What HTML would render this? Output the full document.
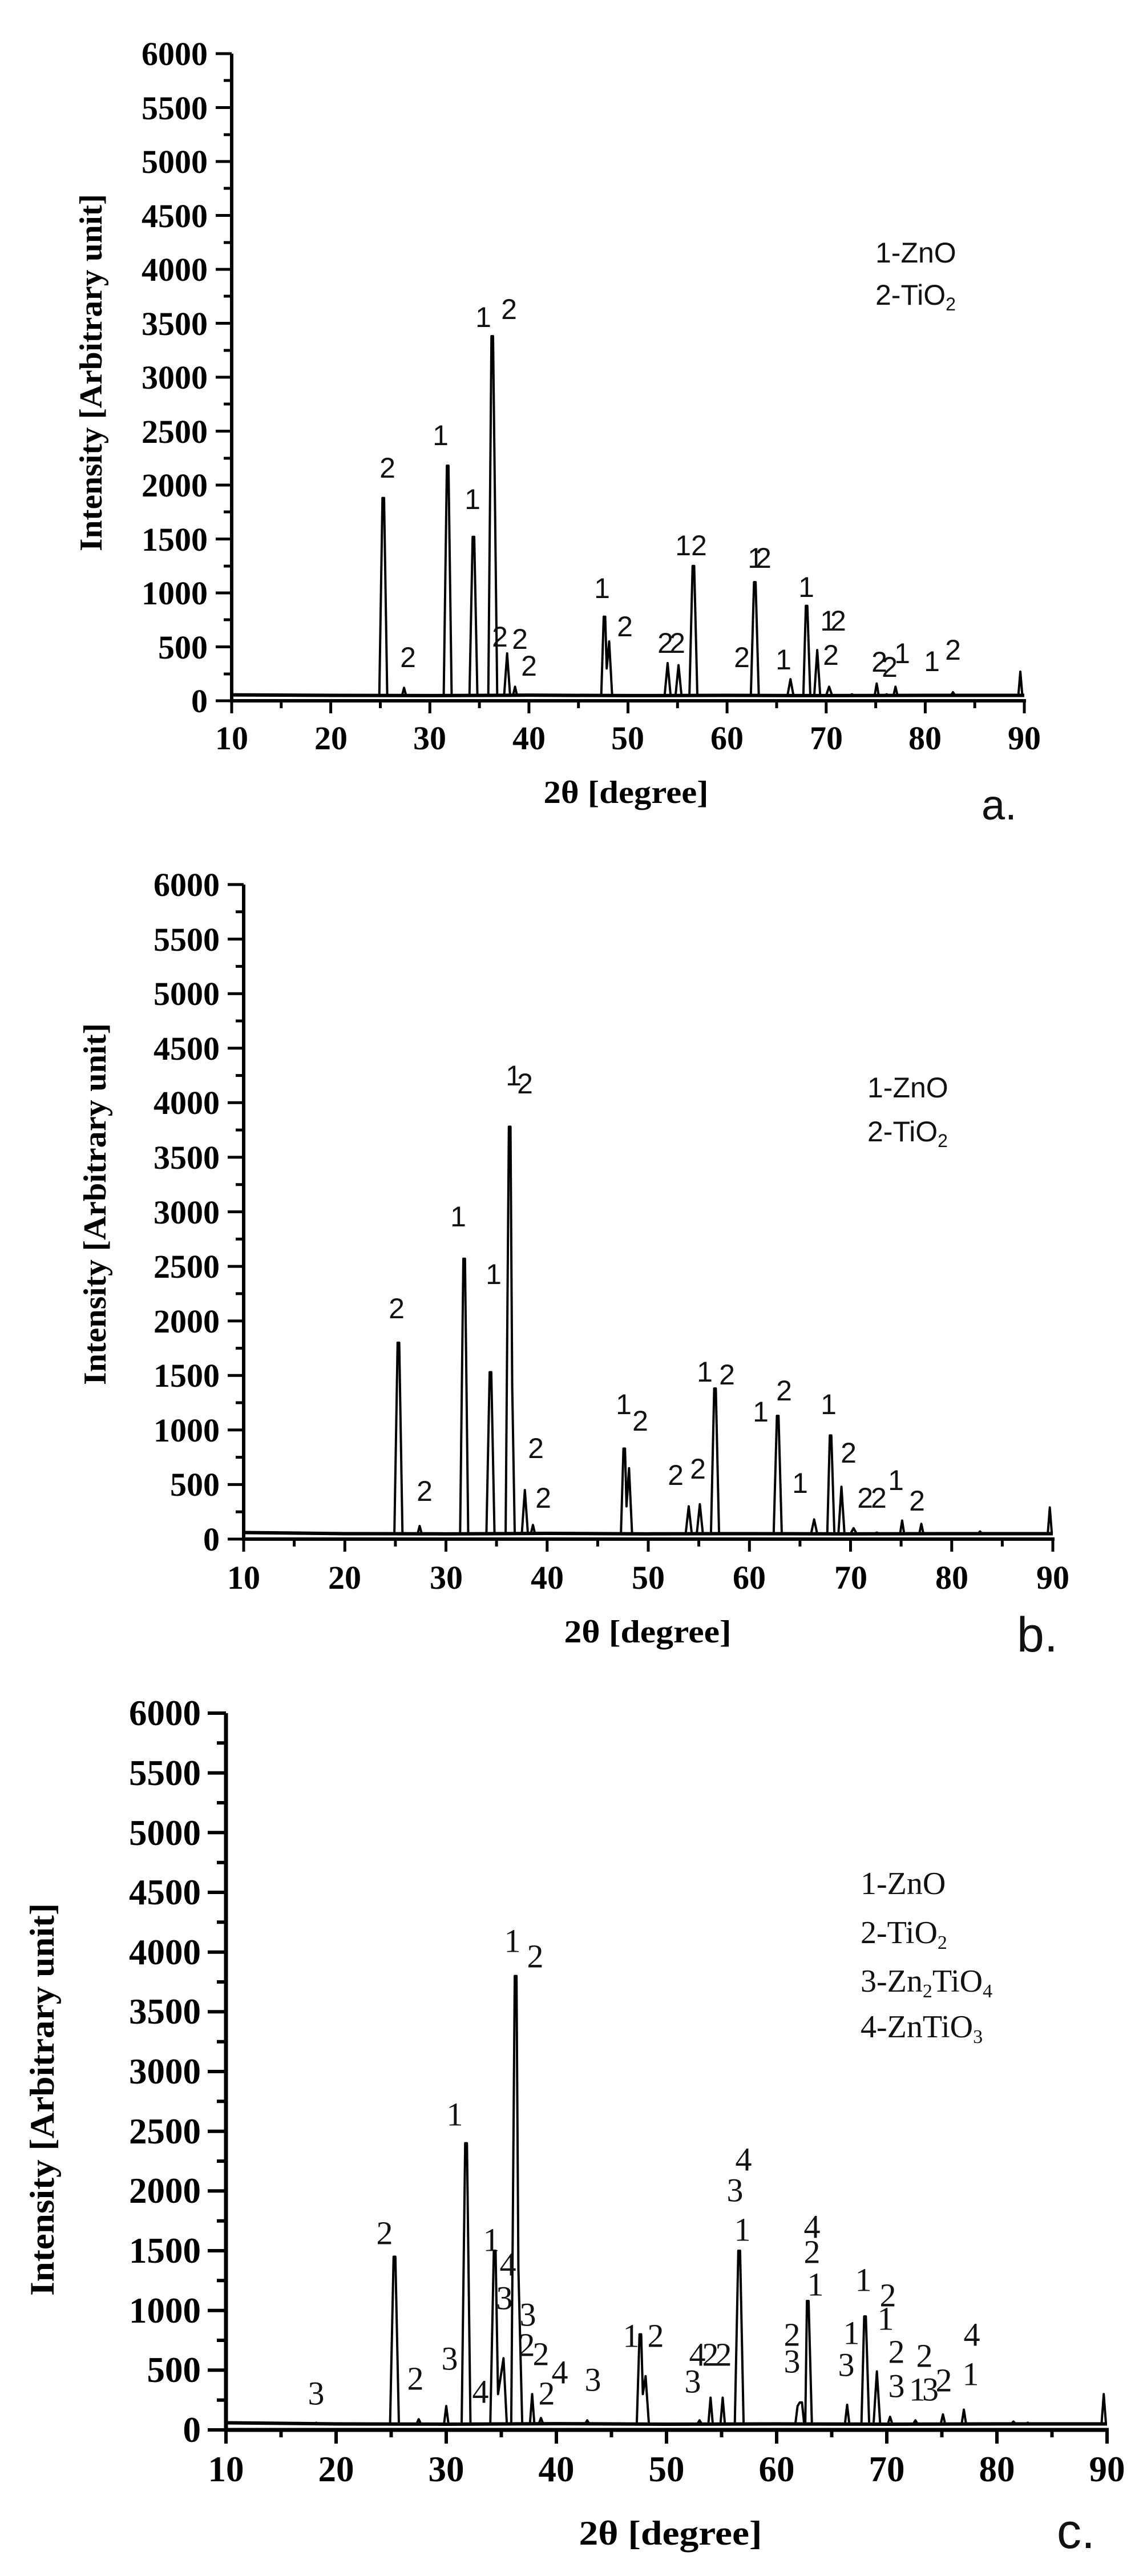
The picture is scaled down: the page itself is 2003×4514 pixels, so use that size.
<!DOCTYPE html>
<html><head><meta charset="utf-8"><style>
body{margin:0;background:#fff}
svg{display:block}
.t{font-family:"Liberation Serif",serif;font-weight:bold;fill:#000}
.s{font-family:"Liberation Sans",sans-serif;fill:#111}
.r{font-family:"Liberation Serif",serif;fill:#111}
path.p{fill:none;stroke:#000;stroke-width:4;vector-effect:non-scaling-stroke;stroke-linejoin:round}
path.b{fill:none;stroke:#000;stroke-width:6;vector-effect:non-scaling-stroke}
</style></head><body>
<svg width="2003" height="4514" viewBox="0 0 2003 4514" xmlns="http://www.w3.org/2000/svg">
<rect width="2003" height="4514" fill="#fff"/>

<!-- ============ CHART A ============ -->
<g transform="translate(406,1228) scale(17.3625,-0.189) translate(-10,0)">
<path class="b" d="M10 55 L20 50 L30 48 L40 52 L50 48 L60 50 L70 48 L80 50 L90 50"/>
<path class="p" d="M24.9 50 L25.22 1880 L25.38 1880 L25.7 50 M27.2 50 L27.4 120 L27.6 50 M31.4 50 L31.72 2180 L31.88 2180 L32.2 50 M34.0 50 L34.32 1520 L34.48 1520 L34.8 50 M35.9 50 L36.22 3380 L36.38 3380 L36.8 50 M37.5 50 L37.8 440 L38.1 50 M38.4 50 L38.6 130 L38.8 50 M47.3 50 L47.55 780 L47.7 780 L47.85 300 L48.1 550 L48.4 50 M53.7 50 L54.0 350 L54.3 50 M54.8 50 L55.1 330 L55.4 50 M56.2 50 L56.52 1250 L56.68 1250 L57.0 50 M62.4 50 L62.72 1100 L62.88 1100 L63.2 50 M66.1 50 L66.4 200 L66.7 50 M67.7 50 L67.95 880 L68.1 880 L68.4 50 M68.8 50 L69.1 470 L69.4 50 M70.0 50 L70.3 130 L70.6 50 M72.4 50 L72.6 60 L72.8 50 M74.9 50 L75.1 160 L75.3 50 M75.9 50 L76.1 60 L76.3 50 M76.8 50 L77.0 130 L77.2 50 M81.3 50 L81.5 55 L81.7 50 M82.6 50 L82.8 80 L83.0 50 M89.4 50 L89.6 270 L89.8 50"/>
</g>
<!-- axes a -->
<g stroke="#000" stroke-width="6" fill="none">
<path d="M406 94 L406 1231 M403 1228 L1798 1228"/>
<path stroke-width="5" d="M378 94H406M378 188.5H406M378 283H406M378 377.5H406M378 472H406M378 566.5H406M378 661H406M378 755.5H406M378 850H406M378 944.5H406M378 1039H406M378 1133.5H406M378 1228H406
M392 141H406M392 236H406M392 330H406M392 425H406M392 519H406M392 614H406M392 708H406M392 803H406M392 897H406M392 992H406M392 1086H406M392 1181H406"/>
<path stroke-width="5" d="M406 1228V1250M579.6 1228V1250M753.3 1228V1250M926.9 1228V1250M1100.5 1228V1250M1274.1 1228V1250M1447.8 1228V1250M1621.4 1228V1250M1795 1228V1250
M492.8 1228V1241M666.5 1228V1241M840.1 1228V1241M1013.7 1228V1241M1187.3 1228V1241M1361 1228V1241M1534.6 1228V1241M1708.2 1228V1241"/>
</g>
<g class="t" font-size="58" text-anchor="end">
<text x="364" y="114">6000</text><text x="364" y="209">5500</text><text x="364" y="303">5000</text><text x="364" y="398">4500</text><text x="364" y="492">4000</text><text x="364" y="587">3500</text><text x="364" y="681">3000</text><text x="364" y="776">2500</text><text x="364" y="870">2000</text><text x="364" y="965">1500</text><text x="364" y="1059">1000</text><text x="364" y="1154">500</text><text x="364" y="1248">0</text>
</g>
<g class="t" font-size="58" text-anchor="middle">
<text x="406" y="1313">10</text><text x="580" y="1313">20</text><text x="753" y="1313">30</text><text x="927" y="1313">40</text><text x="1100" y="1313">50</text><text x="1274" y="1313">60</text><text x="1448" y="1313">70</text><text x="1621" y="1313">80</text><text x="1795" y="1313">90</text>
<text x="1097" y="1407" font-size="56" textLength="289" lengthAdjust="spacingAndGlyphs">2θ [degree]</text>
<text transform="translate(178,653) rotate(-90)" font-size="56" textLength="626" lengthAdjust="spacingAndGlyphs">Intensity [Arbitrary unit]</text>
</g>
<g class="s" font-size="50">
<text x="1534" y="460">1-ZnO</text>
<text x="1534" y="534">2-TiO<tspan font-size="32" dy="10">2</tspan></text>
<text x="1720" y="1436" font-size="74">a.</text>
</g>
<g class="s" font-size="50" text-anchor="middle" dominant-baseline="central">
<text x="679" y="820">2</text><text x="715" y="1152">2</text><text x="772" y="763">1</text><text x="828" y="875">1</text>
<text x="847" y="556">1</text><text x="892" y="542">2</text>
<text x="876" y="1116">2</text><text x="911" y="1120">2</text><text x="927" y="1167">2</text>
<text x="1055" y="1031">1</text><text x="1095" y="1098">2</text>
<text x="1166" y="1127">2</text><text x="1187" y="1127">2</text>
<text x="1211" y="956">12</text><text x="1324" y="978" letter-spacing="-14">12</text>
<text x="1300" y="1152">2</text><text x="1373" y="1156">1</text><text x="1413" y="1029">1</text>
<text x="1455" y="1088" letter-spacing="-10">12</text><text x="1456" y="1148">2</text>
<text x="1541" y="1160">2</text><text x="1559" y="1169">2</text><text x="1581" y="1145">1</text>
<text x="1633" y="1159">1</text><text x="1670" y="1139">2</text>
</g>

<!-- ============ CHART B ============ -->
<g transform="translate(427,2697) scale(17.725,-0.19117) translate(-10,0)">
<path class="b" d="M10 60 L20 50 L30 48 L40 52 L50 48 L60 50 L70 48 L80 50 L90 50"/>
<path class="p" d="M24.9 50 L25.22 1800 L25.38 1800 L25.7 50 M27.2 50 L27.4 120 L27.6 50 M31.4 50 L31.72 2570 L31.88 2570 L32.2 50 M34.0 50 L34.32 1530 L34.48 1530 L34.8 50 M35.9 50 L36.22 3780 L36.38 3780 L36.55 1400 L36.8 50 M37.5 50 L37.8 450 L38.1 50 M38.4 50 L38.6 130 L38.8 50 M47.3 50 L47.55 830 L47.7 830 L47.85 300 L48.1 650 L48.4 50 M53.7 50 L54.0 300 L54.3 50 M54.8 50 L55.1 320 L55.4 50 M56.2 50 L56.52 1380 L56.68 1380 L57.0 50 M62.4 50 L62.72 1130 L62.88 1130 L63.2 50 M66.1 50 L66.4 180 L66.7 50 M67.7 50 L67.95 950 L68.1 950 L68.4 50 M68.8 50 L69.1 480 L69.4 50 M70.0 50 L70.3 100 L70.6 50 M72.4 50 L72.6 60 L72.8 50 M74.9 50 L75.1 170 L75.3 50 M76.8 50 L77.0 140 L77.2 50 M81.3 50 L81.5 55 L81.7 50 M82.6 50 L82.8 70 L83.0 50 M89.5 50 L89.7 290 L89.9 50"/>
</g>
<g stroke="#000" stroke-width="6" fill="none">
<path d="M427 1550 L427 2700 M424 2697 L1848 2697"/>
<path stroke-width="5" d="M399 1550H427M399 1645.6H427M399 1741.2H427M399 1836.8H427M399 1932.3H427M399 2027.9H427M399 2123.5H427M399 2219.1H427M399 2314.7H427M399 2410.3H427M399 2505.8H427M399 2601.4H427M399 2697H427
M413 1597.8H427M413 1693.4H427M413 1789H427M413 1884.6H427M413 1980.1H427M413 2075.7H427M413 2171.3H427M413 2266.9H427M413 2362.5H427M413 2458H427M413 2553.6H427M413 2649.2H427"/>
<path stroke-width="5" d="M427 2697V2719M604.3 2697V2719M781.5 2697V2719M958.8 2697V2719M1136 2697V2719M1313.3 2697V2719M1490.5 2697V2719M1667.8 2697V2719M1845 2697V2719
M515.6 2697V2710M692.9 2697V2710M870.1 2697V2710M1047.4 2697V2710M1224.6 2697V2710M1401.9 2697V2710M1579.1 2697V2710M1756.4 2697V2710"/>
</g>
<g class="t" font-size="58" text-anchor="end">
<text x="385" y="1570">6000</text><text x="385" y="1666">5500</text><text x="385" y="1761">5000</text><text x="385" y="1857">4500</text><text x="385" y="1952">4000</text><text x="385" y="2048">3500</text><text x="385" y="2144">3000</text><text x="385" y="2239">2500</text><text x="385" y="2335">2000</text><text x="385" y="2430">1500</text><text x="385" y="2526">1000</text><text x="385" y="2621">500</text><text x="385" y="2717">0</text>
</g>
<g class="t" font-size="58" text-anchor="middle">
<text x="427" y="2784">10</text><text x="604" y="2784">20</text><text x="782" y="2784">30</text><text x="959" y="2784">40</text><text x="1136" y="2784">50</text><text x="1313" y="2784">60</text><text x="1491" y="2784">70</text><text x="1668" y="2784">80</text><text x="1845" y="2784">90</text>
<text x="1135" y="2878" font-size="56" textLength="293" lengthAdjust="spacingAndGlyphs">2θ [degree]</text>
<text transform="translate(185,2110) rotate(-90)" font-size="56" textLength="634" lengthAdjust="spacingAndGlyphs">Intensity [Arbitrary unit]</text>
</g>
<g class="s" font-size="50">
<text x="1520" y="1923">1-ZnO</text>
<text x="1520" y="2000">2-TiO<tspan font-size="32" dy="10">2</tspan></text>
<text x="1782" y="2894" font-size="86">b.</text>
</g>
<g class="s" font-size="50" text-anchor="middle" dominant-baseline="central">
<text x="695" y="2293">2</text><text x="744" y="2613">2</text><text x="803" y="2132">1</text><text x="865" y="2233">1</text>
<text x="900" y="1885">1</text><text x="920" y="1899">2</text>
<text x="939" y="2538">2</text><text x="952" y="2625">2</text>
<text x="1093" y="2461">1</text><text x="1122" y="2490">2</text>
<text x="1184" y="2585">2</text><text x="1223" y="2574">2</text>
<text x="1235" y="2404">1</text><text x="1274" y="2409">2</text>
<text x="1333" y="2474">1</text><text x="1374" y="2437">2</text>
<text x="1402" y="2599">1</text>
<text x="1452" y="2461">1</text><text x="1487" y="2546">2</text>
<text x="1526" y="2625" letter-spacing="-4">22</text><text x="1570" y="2594">1</text><text x="1607" y="2630">2</text>
</g>

<!-- ============ CHART C ============ -->
<g transform="translate(396,4258) scale(19.3,-0.2093) translate(-10,0)">
<path class="b" d="M10 60 L20 50 L30 48 L40 52 L50 48 L60 50 L70 48 L80 50 L90 50"/>
<path class="p" d="M18.0 50 L18.2 60 L18.4 50 M24.9 50 L25.22 1450 L25.38 1450 L25.7 50 M27.3 50 L27.5 90 L27.7 50 M29.8 50 L30.0 200 L30.2 50 M31.4 50 L31.72 2400 L31.88 2400 L32.2 50 M34.0 50 L34.32 1500 L34.48 1500 L34.7 300 L35.2 600 L35.5 50 M35.9 50 L36.22 3800 L36.38 3800 L36.55 1350 L36.9 50 M37.6 50 L37.8 300 L38.0 50 M38.4 50 L38.6 100 L38.8 50 M42.6 50 L42.8 80 L43.0 50 M47.3 50 L47.55 800 L47.7 800 L47.85 300 L48.1 450 L48.4 50 M52.8 50 L53.0 80 L53.2 50 M53.8 50 L54.0 270 L54.2 50 M54.9 50 L55.1 270 L55.3 50 M56.2 50 L56.52 1500 L56.68 1500 L57.0 50 M61.7 50 L61.9 200 L62.1 230 L62.3 230 L62.5 50 M62.6 50 L62.75 1080 L62.9 1080 L63.2 50 M66.2 50 L66.4 210 L66.6 50 M67.7 50 L67.95 950 L68.1 950 L68.4 50 M68.8 50 L69.1 490 L69.4 50 M70.1 50 L70.3 110 L70.5 50 M72.4 50 L72.6 80 L72.8 50 M74.9 50 L75.1 130 L75.3 50 M76.8 50 L77.0 170 L77.2 50 M81.3 50 L81.5 70 L81.7 50 M82.6 50 L82.8 60 L83.0 50 M89.5 50 L89.7 300 L89.9 50"/>
</g>
<g stroke="#000" stroke-width="7" fill="none">
<path d="M396 3002 L396 4261 M393 4258 L1943 4258"/>
<path stroke-width="6" d="M364 3002H396M364 3106.7H396M364 3211.3H396M364 3316H396M364 3420.7H396M364 3525.3H396M364 3630H396M364 3734.7H396M364 3839.3H396M364 3944H396M364 4048.7H396M364 4153.3H396M364 4258H396
M380 3054.3H396M380 3159H396M380 3263.7H396M380 3368.3H396M380 3473H396M380 3577.7H396M380 3682.3H396M380 3787H396M380 3891.7H396M380 3996.3H396M380 4101H396M380 4205.7H396"/>
<path stroke-width="6" d="M396 4258V4282M589 4258V4282M782 4258V4282M975 4258V4282M1168 4258V4282M1361 4258V4282M1554 4258V4282M1747 4258V4282M1940 4258V4282
M492.5 4258V4271M685.5 4258V4271M878.5 4258V4271M1071.5 4258V4271M1264.5 4258V4271M1457.5 4258V4271M1650.5 4258V4271M1843.5 4258V4271"/>
</g>
<g class="t" font-size="63" text-anchor="end">
<text x="352" y="3023">6000</text><text x="352" y="3128">5500</text><text x="352" y="3233">5000</text><text x="352" y="3337">4500</text><text x="352" y="3442">4000</text><text x="352" y="3546">3500</text><text x="352" y="3651">3000</text><text x="352" y="3756">2500</text><text x="352" y="3860">2000</text><text x="352" y="3965">1500</text><text x="352" y="4070">1000</text><text x="352" y="4174">500</text><text x="352" y="4279">0</text>
</g>
<g class="t" font-size="63" text-anchor="middle">
<text x="396" y="4348">10</text><text x="589" y="4348">20</text><text x="782" y="4348">30</text><text x="975" y="4348">40</text><text x="1168" y="4348">50</text><text x="1361" y="4348">60</text><text x="1554" y="4348">70</text><text x="1747" y="4348">80</text><text x="1940" y="4348">90</text>
<text x="1175" y="4459" font-size="60" textLength="321" lengthAdjust="spacingAndGlyphs">2θ [degree]</text>
<text transform="translate(94,3679) rotate(-90)" font-size="60" textLength="688" lengthAdjust="spacingAndGlyphs">Intensity [Arbitrary unit]</text>
</g>
<g class="r" font-size="56">
<text x="1508" y="3319">1-ZnO</text>
<text x="1508" y="3405">2-TiO<tspan font-size="34" dy="10">2</tspan></text>
<text x="1508" y="3490">3-Zn<tspan font-size="34" dy="10">2</tspan><tspan dy="-10">TiO</tspan><tspan font-size="34" dy="10">4</tspan></text>
<text x="1508" y="3570">4-ZnTiO<tspan font-size="34" dy="10">3</tspan></text>
</g>
<text class="s" x="1852" y="4465" font-size="86">c.</text>
<g class="r" font-size="58" text-anchor="middle" dominant-baseline="central">
<text x="554" y="4194">3</text><text x="674" y="3913">2</text><text x="728" y="4168">2</text>
<text x="797" y="3705">1</text><text x="788" y="4133">3</text><text x="842" y="4191">4</text>
<text x="861" y="3925">1</text><text x="890" y="3968">4</text><text x="884" y="4027">3</text>
<text x="898" y="3401">1</text><text x="938" y="3428">2</text>
<text x="925" y="4056">3</text><text x="923" y="4109">2</text><text x="948" y="4125">2</text>
<text x="981" y="4157">4</text><text x="958" y="4194">2</text><text x="1039" y="4170">3</text>
<text x="1106" y="4093">1</text><text x="1149" y="4093">2</text>
<text x="1214" y="4173">3</text><text x="1222" y="4126">4</text><text x="1245" y="4126">2</text><text x="1268" y="4126">2</text>
<text x="1303" y="3784">4</text><text x="1288" y="3838">3</text><text x="1301" y="3907">1</text>
<text x="1423" y="3902">4</text><text x="1423" y="3946">2</text><text x="1429" y="4003">1</text>
<text x="1388" y="4091">2</text><text x="1388" y="4138">3</text>
<text x="1492" y="4088">1</text><text x="1483" y="4144">3</text><text x="1513" y="3995">1</text>
<text x="1556" y="4022">2</text><text x="1552" y="4063">1</text>
<text x="1571" y="4121">2</text><text x="1571" y="4181">3</text>
<text x="1620" y="4128">2</text><text x="1616" y="4187" letter-spacing="-6">13</text><text x="1654" y="4171">2</text>
<text x="1703" y="4091">4</text><text x="1701" y="4160">1</text>
</g>
</svg>
</body></html>
